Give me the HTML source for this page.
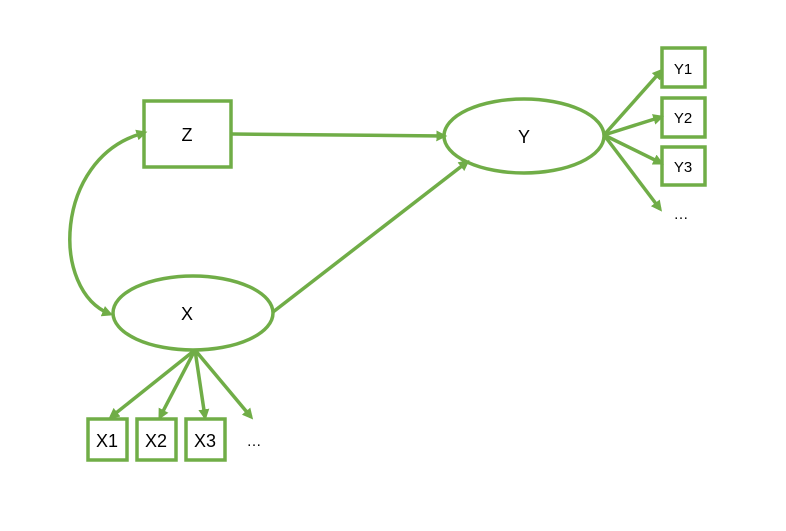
<!DOCTYPE html>
<html><head><style>body{margin:0;background:#fff}svg{display:block}text{font-family:"Liberation Sans",sans-serif;fill:#000}</style></head>
<body>
<svg width="786" height="531" viewBox="0 0 786 531">
<defs><marker id="a" markerWidth="11" markerHeight="11" refX="7" refY="5" orient="auto" markerUnits="userSpaceOnUse" viewBox="0 0 10 10"><path d="M0,0 L10,5 L0,10 z" fill="#70ad47"/></marker>
<marker id="s" markerWidth="11" markerHeight="11" refX="3" refY="5" orient="auto-start-reverse" markerUnits="userSpaceOnUse" viewBox="0 0 10 10"><path d="M0,0 L10,5 L0,10 z" fill="#70ad47"/></marker></defs>
<g fill="none" stroke="#70ad47" stroke-width="3.5">
<rect x="144" y="101" width="87" height="66" fill="#fff"/>
<ellipse cx="524" cy="136" rx="80" ry="37" fill="#fff"/>
<ellipse cx="193" cy="313" rx="80" ry="37" fill="#fff"/>
<rect x="662" y="48" width="43" height="39"/>
<rect x="662" y="98" width="43" height="39"/>
<rect x="662" y="147" width="43" height="38"/>
<rect x="88" y="419" width="39" height="41"/>
<rect x="137" y="419" width="39" height="41"/>
<rect x="186" y="419" width="39" height="41"/>
<path d="M232,134 L444,136" marker-end="url(#a)"/>
<path d="M273,312 L467,162" marker-end="url(#a)"/>
<path d="M140,134 C55,160 50,290 110,314" marker-start="url(#s)" marker-end="url(#a)"/>
<path d="M604,135 L661,71" marker-end="url(#a)"/>
<path d="M604,135 L661,117" marker-end="url(#a)"/>
<path d="M604,135 L661,163" marker-end="url(#a)"/>
<path d="M604,135 L660,209" marker-end="url(#a)"/>
<path d="M195,350 L111,417" marker-end="url(#a)"/>
<path d="M195,350 L160,417" marker-end="url(#a)"/>
<path d="M195,350 L205,417" marker-end="url(#a)"/>
<path d="M195,350 L251,417" marker-end="url(#a)"/>
</g>
<g font-size="18" text-anchor="middle">
<text x="187" y="141">Z</text>
<text x="524" y="143">Y</text>
<text x="187" y="320">X</text>
</g>
<g font-size="15" text-anchor="middle">
<text x="683" y="74">Y1</text>
<text x="683" y="123">Y2</text>
<text x="683" y="172">Y3</text>
<text x="681" y="219">…</text>
<text x="107" y="447" font-size="18">X1</text>
<text x="156" y="447" font-size="18">X2</text>
<text x="205" y="447" font-size="18">X3</text>
<text x="254" y="446">…</text>
</g>
</svg>
</body></html>
